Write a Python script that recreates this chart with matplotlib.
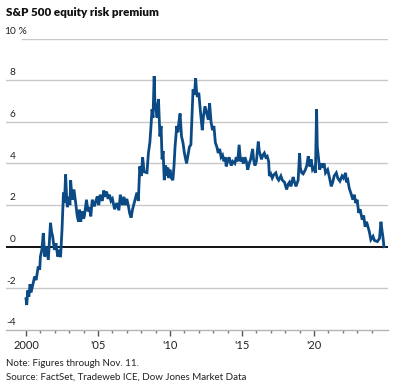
import matplotlib
matplotlib.use("Agg")
import matplotlib.pyplot as plt
import matplotlib.transforms as mtransforms

plt.rcParams['font.family'] = ['Lato', 'DejaVu Sans']

title = "S&P 500 equity risk premium"
note = "Note: Figures through Nov. 11."
source = "Source: FactSet, Tradeweb ICE, Dow Jones Market Data"

years = [
    2000.00, 2000.05, 2000.12, 2000.20, 2000.28, 2000.35, 2000.45, 2000.60, 2000.70, 2000.85,
    2000.95, 2001.00, 2001.10, 2001.20, 2001.30, 2001.40, 2001.55, 2001.70, 2001.78, 2001.85,
    2001.97, 2002.08, 2002.20, 2002.30, 2002.40, 2002.50, 2002.60, 2002.67, 2002.75, 2002.82,
    2002.87, 2002.95, 2003.05, 2003.10, 2003.20, 2003.33, 2003.45, 2003.56, 2003.65, 2003.72,
    2003.80, 2003.90, 2004.00, 2004.05, 2004.20, 2004.30, 2004.40, 2004.50, 2004.60, 2004.75,
    2004.85, 2004.95, 2005.05, 2005.15, 2005.30, 2005.40, 2005.50, 2005.60, 2005.70, 2005.80,
    2005.90, 2006.00, 2006.15, 2006.30, 2006.45, 2006.55, 2006.70, 2006.80, 2006.90, 2007.00,
    2007.10, 2007.20, 2007.30, 2007.40, 2007.55, 2007.70, 2007.80, 2007.90, 2008.00, 2008.10,
    2008.20, 2008.40, 2008.50, 2008.60, 2008.70, 2008.75, 2008.82, 2008.90, 2008.95, 2009.00,
    2009.10, 2009.20, 2009.30, 2009.38, 2009.45, 2009.52, 2009.60, 2009.70, 2009.77, 2009.85,
    2009.92, 2010.00, 2010.10, 2010.20, 2010.28, 2010.35, 2010.47, 2010.55, 2010.62, 2010.70,
    2010.80, 2010.90, 2011.00, 2011.15, 2011.25, 2011.35, 2011.45, 2011.50, 2011.60, 2011.70,
    2011.78, 2011.85, 2011.90, 2012.00, 2012.10, 2012.24, 2012.33, 2012.43, 2012.55, 2012.66,
    2012.75, 2012.85, 2012.95, 2013.05, 2013.15, 2013.25, 2013.35, 2013.45, 2013.55, 2013.65,
    2013.75, 2013.85, 2013.90, 2014.00, 2014.10, 2014.25, 2014.35, 2014.50, 2014.60, 2014.70,
    2014.80, 2014.90, 2015.00, 2015.10, 2015.20, 2015.30, 2015.40, 2015.50, 2015.60, 2015.74,
    2015.80, 2015.90, 2016.00, 2016.13, 2016.20, 2016.35, 2016.45, 2016.55, 2016.65, 2016.75,
    2016.85, 2016.90, 2017.00, 2017.10, 2017.20, 2017.35, 2017.45, 2017.55, 2017.70, 2017.80,
    2017.95, 2018.10, 2018.20, 2018.30, 2018.40, 2018.55, 2018.65, 2018.75, 2018.90, 2019.00,
    2019.05, 2019.15, 2019.25, 2019.40, 2019.50, 2019.60, 2019.70, 2019.80, 2019.90, 2020.00,
    2020.10, 2020.18, 2020.23, 2020.30, 2020.40, 2020.50, 2020.60, 2020.70, 2020.80, 2020.95,
    2021.05, 2021.20, 2021.30, 2021.40, 2021.55, 2021.65, 2021.80, 2021.95, 2022.05, 2022.20,
    2022.25, 2022.35, 2022.45, 2022.55, 2022.70, 2022.80, 2022.90, 2023.00, 2023.10, 2023.20,
    2023.35, 2023.45, 2023.55, 2023.65, 2023.75, 2023.85, 2023.95, 2024.10, 2024.20, 2024.40,
    2024.55, 2024.65, 2024.72, 2024.80, 2024.86,
]
premium = [
    -2.5, -2.8, -2.1, -2.4, -1.8, -2.2, -1.9, -1.43, -1.6, -0.95,
    -1.1, -0.47, -0.15, 0.66, -0.47, 0.0, -0.63, 1.15, 0.7, 0.5,
    -0.15, 0.17, -0.47, -0.15, -0.5, 0.82, 2.6, 2.1, 3.47, 2.4,
    1.9, 2.4, 2.0, 3.2, 2.26, 2.75, 2.1, 1.46, 1.2, 1.78,
    1.2, 1.7, 1.35, 1.46, 2.26, 1.7, 1.9, 1.46, 2.26, 1.94,
    2.2, 2.42, 2.0, 2.5, 2.2, 2.7, 2.4, 2.65, 2.3, 2.5,
    2.2, 2.3, 1.8, 2.1, 1.75, 2.5, 2.0, 2.4, 2.0, 2.3,
    2.0, 1.6, 1.4, 1.8, 2.2, 2.6, 2.2, 3.86, 3.4, 4.3,
    3.6, 3.56, 4.5, 5.0, 6.0, 6.6, 6.2, 8.2, 7.0, 6.75,
    6.2, 7.1, 5.3, 5.8, 4.2, 4.6, 3.2, 3.9, 3.4, 3.8,
    3.3, 3.7, 3.3, 3.2, 3.9, 4.8, 5.8, 5.5, 6.0, 6.4,
    5.3, 5.0, 4.5, 4.0, 4.4, 4.8, 4.9, 5.8, 7.56, 7.3,
    8.1, 7.4, 7.2, 7.4, 6.6, 5.6, 6.3, 6.75, 6.4, 6.1,
    6.9, 6.0, 5.6, 5.8, 5.0, 4.8, 4.5, 4.7, 4.3, 4.4,
    4.1, 4.3, 3.86, 4.1, 4.3, 3.9, 4.1, 4.0, 4.3, 4.1,
    4.9, 4.1, 4.2, 4.0, 4.3, 4.1, 3.7, 4.0, 4.2, 4.7,
    4.2, 3.9, 4.1, 5.05, 4.6, 4.2, 4.4, 4.5, 4.3, 4.35,
    4.1, 3.4, 3.5, 3.3, 3.45, 3.55, 3.3, 3.2, 3.4, 3.2,
    3.1, 2.75, 3.0, 3.1, 2.9, 3.35, 3.1, 2.9, 3.2, 4.5,
    3.8, 3.55, 3.5, 3.7, 3.9, 4.35, 3.86, 4.2, 3.7, 3.8,
    3.55, 6.6, 4.8, 4.35, 3.7, 4.0, 3.8, 4.0, 3.55, 3.7,
    3.4, 2.9, 3.1, 3.4, 3.55, 3.3, 3.15, 3.4, 3.3, 3.55,
    3.1, 3.2, 2.8, 2.6, 2.26, 2.5, 2.1, 2.26, 1.63, 1.8,
    1.3, 1.5, 0.96, 1.2, 0.96, 0.7, 0.34, 0.5, 0.3, 0.25,
    0.4, 1.2, 0.8, 0.4, 0.0,
]

y_ticks = [-4, -2, 0, 2, 4, 6, 8, 10]
x_ticks = [2000, 2005, 2010, 2015, 2020]
x_tick_labels = ["2000", "'05", "'10", "'15", "'20"]

W, H = 418, 389
fig = plt.figure(figsize=(W / 100, H / 100), dpi=100)
fig.patch.set_facecolor("white")
ax = fig.add_axes([6 / W, (H - 330) / H, (388 - 6) / W, (330 - 38.6) / H])
ax.set_xlim(1998.61, 2025.14)
ax.set_ylim(-4, 10)
for s in ["top", "right", "left"]:
    ax.spines[s].set_visible(False)
ax.spines["bottom"].set_color("#b5b5b5")
ax.spines["bottom"].set_linewidth(1.0)

# gridlines
for v in y_ticks:
    if v == -4:
        continue
    if v == 0:
        ax.axhline(v, color="#111111", lw=1.4, zorder=3)
    elif v == 10:
        ax.axhline(v, xmin=16 / 382, color="#c8c8c8", lw=1.0, zorder=1)
    else:
        ax.axhline(v, color="#c8c8c8", lw=1.0, zorder=1)

ax.plot(years, premium, color="#0b4a85", lw=2.0, zorder=4, solid_joinstyle="miter")

# y labels above gridlines
trans = mtransforms.blended_transform_factory(fig.transFigure, ax.transData)
off = mtransforms.offset_copy(trans, fig=fig, y=2, units="points")
for v in y_ticks:
    ax.text(15.5 / W, v, str(v), transform=off, ha="right", va="bottom",
            fontsize=7.3, color="#222222")
ax.text(15.5 / W, 10, " %", transform=off, ha="left", va="bottom",
        fontsize=7.3, color="#222222")

ax.set_yticks([])
ax.set_xticks(x_ticks)
ax.set_xticklabels(x_tick_labels)
ax.set_xticks(list(range(2000, 2025)), minor=True)
ax.tick_params(axis="x", which="major", length=4.5, width=1.0, color="#555555",
               labelsize=8, labelcolor="#222222", pad=3)
ax.tick_params(axis="x", which="minor", length=2.5, width=1.0, color="#777777")

fig.text(6 / W, 1 - 12 / H, title, fontsize=8.4, fontweight="heavy", va="center",
         ha="left", color="#111111")
fig.text(6 / W, 1 - 364 / H, note, fontsize=7.0, va="center", ha="left", color="#222222")
fig.text(6 / W, 1 - 377 / H, source, fontsize=7.0, va="center", ha="left", color="#222222")

fig.savefig("out.png", dpi=100, facecolor="white")
